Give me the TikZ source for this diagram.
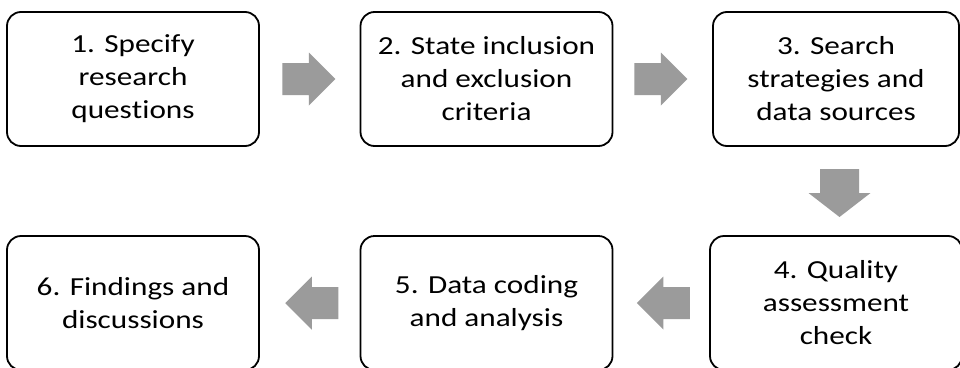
\documentclass[tikz,border=0pt]{standalone}
\usepackage{fontspec}
\setmainfont{Carlito}[FakeStretch=1.2, RawFeature={-liga;-clig;-calt;-dlig}]
\usetikzlibrary{calc}
\definecolor{arrowgray}{RGB}{155,155,155}
\tikzset{
  stepbox/.style={draw=black, line width=1.8pt, rounded corners=14pt,
    minimum width=252pt, minimum height=134pt, inner sep=0pt,
    align=center, font=\fontsize{26}{33}\selectfont},
  pics/hblock/.style={code={
    \fill[arrowgray] (-26.5,16) -- (0,16) -- (0,26.5) -- (26.5,0)
      -- (0,-26.5) -- (0,-16) -- (-26.5,-16) -- cycle;}},
  pics/vblock/.style={code={
    \fill[arrowgray] (-19.5,24) -- (19.5,24) -- (19.5,0) -- (31,0)
      -- (0,-24) -- (-31,0) -- (-19.5,0) -- cycle;}},
}
\begin{document}
\begin{tikzpicture}[x=1pt, y=1pt]
  \clip (0,0) rectangle (960,-367);
  \fill[white] (0,0) rectangle (960,-367);

  % top row
  \node[stepbox] (b1) at (133,-79) {1. Specify\\research\\ques\kern0pt tions};
  \node[stepbox] (b2) at (486.5,-79) {2. State inclusion\\and exclusion\\criteria};
  \node[stepbox, minimum width=246pt] (b3) at (836,-79) {3. Search\\strategies and\\data sources};

  % bottom row
  \node[stepbox] (b4) at (836,-303) {4. Quality\\assessment\\check};
  \node[stepbox] (b5) at (486.5,-303) {5. Data coding\\and analysis};
  \node[stepbox] (b6) at (133,-303) {6. Findings and\\discussions};

  % block arrows between the steps
  \coordinate (m12) at ($(b1.east)!0.5!(b2.west)$);
  \coordinate (m23) at ($(b2.east)!0.5!(b3.west)$);
  \coordinate (m34) at ($(b3.south)!0.5!(b4.north)$);
  \coordinate (m45) at ($(b4.west)!0.5!(b5.east)$);
  \coordinate (m56) at ($(b5.west)!0.5!(b6.east)$);

  \pic at ($(m12)+(-1,0)$) {hblock};
  \pic at ($(m23)+(-2,0)$) {hblock};
  \pic at ($(m34)+(3.5,-2)$) {vblock};
  \pic[rotate=180] at ($(m45)+(2,0)$) {hblock};
  \pic[rotate=180] at ($(m56)+(2,0)$) {hblock};
\end{tikzpicture}
\end{document}
